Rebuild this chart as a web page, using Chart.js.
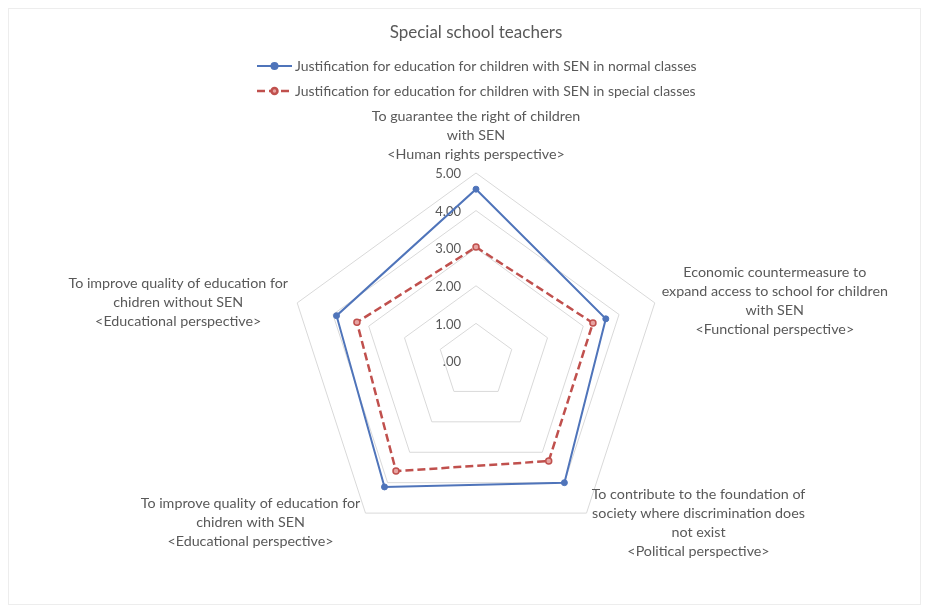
<!DOCTYPE html>
<html>
<head>
<meta charset="utf-8">
<script src="https://cdn.jsdelivr.net/npm/chart.js@4/dist/chart.umd.min.js"></script>
<style>
  html, body { margin: 0; padding: 0; background: #ffffff; }
  #wrap { position: relative; width: 929px; height: 612px; }
</style>
</head>
<body>
<div id="wrap"><canvas id="c" width="929" height="612"></canvas></div>
<script>
// ---- data ----
const chartTitle = 'Special school teachers';
const categories = [
  ['To guarantee the right of children', 'with SEN', '<Human rights perspective>'],
  ['Economic countermeasure to', 'expand access to school for children', 'with SEN', '<Functional perspective>'],
  ['To contribute to the foundation of', 'society where discrimination does', 'not exist', '<Political perspective>'],
  ['To improve quality of education for', 'chidren with SEN', '<Educational perspective>'],
  ['To improve quality of education for', 'chidren without SEN', '<Educational perspective>']
];
const seriesNames = [
  'Justification for education for children with SEN in normal classes',
  'Justification for education for children with SEN in special classes'
];
const normalClasses = [4.57, 3.63, 4.00, 4.14, 3.90];
const specialClasses = [3.03, 3.27, 3.29, 3.62, 3.33];
const tickValues = [0, 1, 2, 3, 4, 5];
const tickLabels = ['.00', '1.00', '2.00', '3.00', '4.00', '5.00'];

// ---- styling ----
const FONT = "Lato, 'Liberation Sans', sans-serif";
const TEXT = '#595959';
const BLUE = '#4F74BA';
const RED = '#C0504D';
// label block centre offsets from the outer grid vertex
const labelOffsets = [[0, -38], [120, -2], [112, 10], [-115, 9], [-119, -1]];
const LINE_H = 19;

const textPlugin = {
  id: 'excelText',
  beforeDatasetsDraw(chart) {
    const ctx = chart.ctx;
    const s = chart.scales.r;
    ctx.save();
    ctx.fillStyle = TEXT;
    ctx.font = '13px ' + FONT;
    ctx.textAlign = 'right';
    ctx.textBaseline = 'middle';
    tickValues.forEach((v, i) => {
      const d = s.getDistanceFromCenterForValue(v);
      ctx.fillText(tickLabels[i], s.xCenter - 15, s.yCenter - d + 1);
    });
    ctx.restore();
  },
  afterDraw(chart) {
    const ctx = chart.ctx;
    const s = chart.scales.r;
    ctx.save();
    // faint frame
    ctx.strokeStyle = '#ededed';
    ctx.lineWidth = 1;
    ctx.strokeRect(8.5, 8.5, 912, 596);
    ctx.fillStyle = TEXT;
    ctx.textBaseline = 'middle';
    // title
    ctx.textAlign = 'center';
    ctx.font = '17px ' + FONT;
    ctx.fillText(chartTitle, s.xCenter, 33);
    // legend
    ctx.font = '14px ' + FONT;
    ctx.textAlign = 'left';
    chart.data.datasets.forEach((ds, i) => {
      const y = 66 + i * 25;
      ctx.save();
      ctx.strokeStyle = ds.borderColor;
      ctx.lineWidth = ds.borderWidth;
      ctx.setLineDash(ds.borderDash || []);
      ctx.beginPath();
      ctx.moveTo(257, y);
      ctx.lineTo(292, y);
      ctx.stroke();
      ctx.setLineDash([]);
      ctx.fillStyle = ds.pointBackgroundColor;
      ctx.strokeStyle = ds.pointBorderColor;
      ctx.beginPath();
      ctx.arc(274.5, y, 3, 0, Math.PI * 2);
      ctx.fill();
      ctx.stroke();
      ctx.restore();
      ctx.fillText(ds.label, 295, y);
    });
    // category labels
    ctx.textAlign = 'center';
    ctx.font = '14.3px ' + FONT;
    chart.data.labels.forEach((lines, i) => {
      const p = s.getPointPosition(i, s.drawingArea);
      const cx = p.x + labelOffsets[i][0];
      const cy = p.y + labelOffsets[i][1];
      const y0 = cy - (lines.length - 1) * LINE_H / 2;
      lines.forEach((t, k) => ctx.fillText(t, cx, y0 + k * LINE_H));
    });
    ctx.restore();
  }
};

new Chart(document.getElementById('c'), {
  type: 'radar',
  data: {
    labels: categories,
    datasets: [
      {
        label: seriesNames[0],
        data: normalClasses,
        borderColor: BLUE,
        backgroundColor: 'rgba(0,0,0,0)',
        borderWidth: 2,
        pointRadius: 3,
        pointBackgroundColor: BLUE,
        pointBorderColor: BLUE,
        pointBorderWidth: 1,
        fill: false,
        tension: 0
      },
      {
        label: seriesNames[1],
        data: specialClasses,
        borderColor: RED,
        backgroundColor: 'rgba(0,0,0,0)',
        borderWidth: 2.5,
        borderDash: [8, 4],
        pointRadius: 3,
        pointBackgroundColor: '#E7A3A1',
        pointBorderColor: RED,
        pointBorderWidth: 1.5,
        fill: false,
        tension: 0
      }
    ]
  },
  options: {
    responsive: false,
    animation: false,
    devicePixelRatio: 1,
    layout: { padding: { left: 288, right: 265, top: 173, bottom: 63 } },
    plugins: {
      legend: { display: false },
      title: { display: false },
      tooltip: { enabled: false }
    },
    scales: {
      r: {
        min: 0,
        max: 5,
        ticks: { display: false, stepSize: 1 },
        grid: { color: '#D9D9D9', lineWidth: 1 },
        angleLines: { display: false },
        pointLabels: { display: false }
      }
    }
  },
  plugins: [textPlugin]
});
</script>
</body>
</html>
